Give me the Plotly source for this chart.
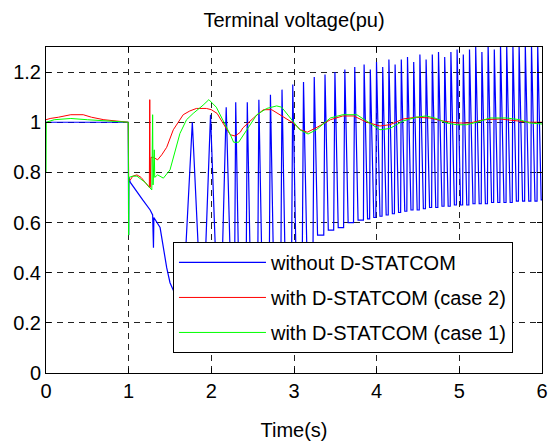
import plotly.graph_objects as go

# ---------------- data ----------------
# Blue: without D-STATCOM (transient part)
blue_pre_t = [0.0, 0.995, 1.0, 1.003, 1.02, 1.08, 1.17, 1.26, 1.29, 1.30, 1.305, 1.38, 1.42, 1.46, 1.50, 1.58]
blue_pre_v = [1.0, 1.0, 0.55, 0.78, 0.76, 0.73, 0.69, 0.65, 0.63, 0.50, 0.62, 0.58, 0.50, 0.42, 0.36, 0.30]
# Blue oscillation, one entry per cycle: start of rise, peak, end of fall
blue_rise_t = [1.66, 1.91, 2.12, 2.28, 2.42, 2.56, 2.70, 2.84, 2.97, 3.10, 3.23, 3.36, 3.48, 3.60, 3.72,
               3.84, 3.915, 3.99, 4.065, 4.14, 4.215, 4.29, 4.365, 4.44, 4.515, 4.59, 4.665, 4.74, 4.815,
               4.89, 4.965, 5.04, 5.115, 5.19, 5.265, 5.34, 5.415, 5.49, 5.565, 5.64, 5.715, 5.79, 5.865, 5.94]
blue_peak_t = [1.77, 1.99, 2.18, 2.295, 2.435, 2.575, 2.715, 2.855, 2.985, 3.115, 3.245, 3.375, 3.495, 3.615,
               3.735, 3.848, 3.923, 3.998, 4.073, 4.148, 4.223, 4.298, 4.373, 4.448, 4.523, 4.598, 4.673,
               4.748, 4.823, 4.898, 4.973, 5.048, 5.123, 5.198, 5.273, 5.348, 5.423, 5.498, 5.573, 5.648,
               5.723, 5.798, 5.873, 5.948]
blue_fall_t = [1.87, 2.07, 2.24, 2.335, 2.475, 2.615, 2.755, 2.895, 3.025, 3.155, 3.285, 3.415, 3.535, 3.655,
               3.775, 3.89, 3.965, 4.04, 4.115, 4.19, 4.265, 4.34, 4.415, 4.49, 4.565, 4.64, 4.715, 4.79,
               4.865, 4.94, 5.015, 5.09, 5.165, 5.24, 5.315, 5.39, 5.465, 5.54, 5.615, 5.69, 5.765, 5.84,
               5.915, 5.99]
blue_low_v = [0.30, 0.30, 0.30, 0.32, 0.33, 0.35, 0.37, 0.38, 0.40, 0.45, 0.50, 0.55, 0.57, 0.58, 0.60,
              0.61, 0.615, 0.62, 0.625, 0.63, 0.635, 0.64, 0.645, 0.65, 0.65, 0.655, 0.66, 0.66, 0.665,
              0.665, 0.67, 0.67, 0.67, 0.675, 0.675, 0.675, 0.68, 0.68, 0.68, 0.68, 0.685, 0.685, 0.685, 0.685]
blue_peak_v = [1.00, 1.03, 1.06, 1.08, 1.08, 1.09, 1.11, 1.13, 1.15, 1.16, 1.18, 1.19, 1.20, 1.21, 1.22,
               1.23, 1.21, 1.24, 1.22, 1.25, 1.23, 1.25, 1.26, 1.24, 1.27, 1.25, 1.27, 1.28, 1.26,
               1.28, 1.29, 1.27, 1.29, 1.30, 1.28, 1.31, 1.29, 1.31, 1.31, 1.31, 1.31, 1.31, 1.31, 1.31]
blue_end_t = [6.0]
blue_end_v = [0.69]

# Red: with D-STATCOM (case 2)
red_t = [0.0, 0.05, 0.15, 0.3, 0.45, 0.55, 0.7, 0.9, 0.995, 1.0, 1.02, 1.05, 1.1, 1.15, 1.2, 1.25,
         1.255, 1.26, 1.27, 1.3, 1.35, 1.4, 1.46, 1.54, 1.6, 1.66, 1.74, 1.82, 1.94, 2.0, 2.07, 2.13,
         2.19, 2.23, 2.29, 2.35, 2.38, 2.51, 2.63, 2.73, 2.87, 2.99, 3.08, 3.16, 3.28, 3.44, 3.59, 3.72,
         3.88, 4.04, 4.16, 4.32, 4.48, 4.64, 4.80, 4.97, 5.13, 5.29, 5.49, 5.69, 5.85, 6.0]
red_v = [1.01, 1.015, 1.02, 1.03, 1.03, 1.02, 1.01, 1.005, 1.0, 0.77, 0.77, 0.785, 0.79, 0.78, 0.76, 0.74,
         1.09, 0.74, 0.86, 0.86, 0.85, 0.87, 0.90, 0.97, 1.0, 1.03, 1.045, 1.055, 1.055, 1.05, 1.035, 1.0,
         0.97, 0.95, 0.945, 0.96, 0.977, 1.017, 1.05, 1.05, 1.02, 0.997, 0.97, 0.96, 0.98, 1.01, 1.025, 1.025,
         1.0, 0.985, 0.99, 1.013, 1.02, 1.017, 1.005, 0.997, 0.997, 1.01, 1.013, 1.005, 1.0, 1.0]

# Green: with D-STATCOM (case 1)
green_t = [0.0, 0.003, 0.1, 0.3, 0.5, 0.8, 0.995, 1.0, 1.003, 1.05, 1.1, 1.2, 1.28, 1.29, 1.295, 1.31,
           1.315, 1.35, 1.42, 1.5, 1.54, 1.62, 1.70, 1.78, 1.9, 1.97, 2.06, 2.14, 2.23, 2.27, 2.33, 2.43,
           2.55, 2.67, 2.79, 2.85, 2.95, 3.07, 3.17, 3.27, 3.44, 3.59, 3.76, 3.9, 4.04, 4.16, 4.32, 4.48,
           4.6, 4.72, 4.85, 4.97, 5.09, 5.21, 5.37, 5.57, 5.73, 5.85, 6.0]
green_v = [0.8, 1.0, 1.01, 1.015, 1.01, 1.005, 1.0, 0.55, 0.78, 0.785, 0.785, 0.76, 0.73, 1.03, 0.75, 0.89,
           0.78, 0.79, 0.777, 0.81, 0.86, 0.955, 1.01, 1.035, 1.068, 1.09, 1.06, 1.01, 0.95, 0.92, 0.92, 0.97,
           1.03, 1.055, 1.065, 1.06, 1.02, 0.97, 0.953, 0.97, 1.017, 1.03, 1.03, 1.0, 0.97, 0.975, 1.005, 1.02,
           1.025, 1.015, 0.997, 0.99, 0.99, 1.0, 1.017, 1.017, 1.01, 0.997, 0.993]

x_ticks = [0, 1, 2, 3, 4, 5, 6]
y_ticks = [0, 0.2, 0.4, 0.6, 0.8, 1.0, 1.2]
y_tick_labels = ["0", "0.2", "0.4", "0.6", "0.8", "1", "1.2"]

series_names = ["without D-STATCOM", "with D-STATCOM (case 2)", "with D-STATCOM (case 1)"]

# ---------------- build blue trace from its arrays ----------------
blue_t = list(blue_pre_t)
blue_v = list(blue_pre_v)
n = len(blue_rise_t)
for i in range(n):
    nxt = blue_low_v[i + 1] if i + 1 < n else blue_end_v[0]
    blue_t += [blue_rise_t[i], blue_peak_t[i], blue_fall_t[i]]
    blue_v += [blue_low_v[i], blue_peak_v[i], nxt]
blue_t += blue_end_t
blue_v += blue_end_v

FONT = "Arial, Liberation Sans, Helvetica, sans-serif"

fig = go.Figure()
fig.add_trace(go.Scatter(x=blue_t, y=blue_v, mode="lines", name=series_names[0],
                         line=dict(color="#0000FF", width=1.2), legendgroup="a"))
fig.add_trace(go.Scatter(x=red_t, y=red_v, mode="lines", name=series_names[1],
                         line=dict(color="#FF0000", width=1), legendgroup="b"))
fig.add_trace(go.Scatter(x=green_t, y=green_v, mode="lines", name=series_names[2],
                         line=dict(color="#00FF00", width=1), legendgroup="c"))

axis_common = dict(
    showline=True, linecolor="black", linewidth=1, mirror="ticks",
    ticks="inside", ticklen=5, tickcolor="black", tickwidth=1,
    showgrid=True, gridcolor="#222222", gridwidth=1, griddash="6px,5px",
    zeroline=False, automargin=False,
    tickfont=dict(family=FONT, size=20, color="black"),
)

fig.update_layout(
    width=560, height=441,
    margin=dict(l=46, r=18, t=47, b=68),
    paper_bgcolor="white", plot_bgcolor="white",
    font=dict(family=FONT, color="black"),
    title=dict(text="Terminal voltage(pu)", x=0.5, xref="paper", xanchor="center",
               y=1 - 20 / 441, yref="container", yanchor="middle",
               font=dict(family=FONT, size=20, color="black")),
    xaxis=dict(range=[0, 6], tickvals=x_ticks,
               title=dict(text="Time(s)", font=dict(family=FONT, size=20, color="black"), standoff=22),
               **axis_common),
    yaxis=dict(range=[0, 1.3], tickvals=y_ticks, ticktext=y_tick_labels, **axis_common),
    showlegend=True,
    legend=dict(x=0.256, y=0.402, xanchor="left", yanchor="top",
                bgcolor="white", bordercolor="black", borderwidth=1,
                font=dict(family=FONT, size=20, color="black"),
                itemwidth=87, tracegroupgap=6, traceorder="grouped"),
)

fig.write_html("out.html", config={"displayModeBar": False},
               post_script="document.body.style.margin='0';")
